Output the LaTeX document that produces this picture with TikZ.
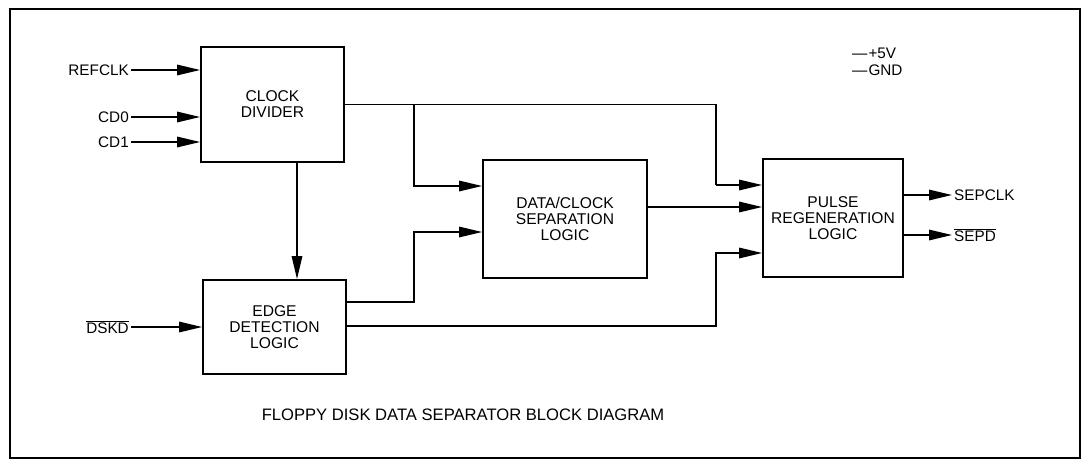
\documentclass[tikz,border=0pt]{standalone}
\usepackage{fontspec}
\setmainfont{Liberation Sans}
\usetikzlibrary{arrows.meta,calc}
\newcommand\ovl[1]{$\overline{\hbox{#1}}$}
\begin{document}
\begin{tikzpicture}[x=1pt,y=-1pt,
  blk/.style={draw,line width=1.8pt,inner sep=0pt,align=center,font=\fontsize{15.6}{16}\selectfont},
  lbl/.style={inner sep=2pt,font=\fontsize{15.3}{16}\selectfont},
  wire/.style={line width=1.5pt},
  arr/.style={line width=1.5pt,-{Triangle[length=23pt,width=10.5pt]}},
  ]
\useasboundingbox (0,0) rectangle (1084,461);
\draw[line width=2.2pt] (10,9) rectangle (1080,458);

\node[blk,minimum width=143pt,minimum height=115pt] (cd) at (272.5,104.5) {CLOCK\\DIVIDER};
\node[blk,minimum width=143pt,minimum height=94pt] (ed) at (274.5,327) {EDGE\\DETECTION\\LOGIC};
\node[blk,minimum width=164pt,minimum height=118pt] (dc) at (565,219) {DATA/CLOCK\\SEPARATION\\LOGIC};
\node[blk,minimum width=140pt,minimum height=118pt] (pr) at (833,218) {PULSE\\REGENERATION\\LOGIC};

% inputs
\node[lbl,anchor=east] (refclk) at (131,70) {REFCLK};
\node[lbl,anchor=east] (cd0) at (131,117) {CD0};
\node[lbl,anchor=east] (cd1) at (131,142) {CD1};
\node[lbl,anchor=east] (dskd) at (131,327) {\ovl{DSKD}};
\draw[arr] (refclk.east) -- (refclk.east -| cd.west);
\draw[arr] (cd0.east) -- (cd0.east -| cd.west);
\draw[arr] (cd1.east) -- (cd1.east -| cd.west);
\draw[arr] (dskd.east) -- (dskd.east -| ed.west);

% outputs
\node[lbl,anchor=west] (sepclk) at (952,195) {SEPCLK};
\node[lbl,anchor=west] (sepd) at (952,235) {\ovl{SEPD}};
\draw[arr] (pr.east |- sepclk.west) -- (sepclk.west);
\draw[arr] (pr.east |- sepd.west) -- (sepd.west);

% power
\node[lbl,anchor=west] (p5) at (850,53) {\textemdash\kern1pt+5V};
\node[lbl,anchor=west] (gnd) at (850,70) {\textemdash\kern1pt GND};

% internal connections
\coordinate (xa) at (297,0);
\coordinate (xb) at (414,0);
\coordinate (xc) at (716,0);
\draw[arr] (xa |- cd.south) -- (xa |- ed.north);

\draw[wire] (cd.east) -- (xc |- cd.east) -- (xc |- 0,185);
\draw[arr] (xc |- 0,185) -- (pr.west |- 0,185);
\draw[arr] (xb |- cd.east) -- (xb |- 0,186) -- (dc.west |- 0,186);

\draw[arr] (ed.east |- 0,302) -- (xb |- 0,302) -- (xb |- 0,232) -- (dc.west |- 0,232);
\draw[arr] (ed.east |- 0,326) -- (xc |- 0,326) -- (xc |- 0,253) -- (pr.west |- 0,253);
\draw[arr] (dc.east |- 0,207) -- (pr.west |- 0,207);

\node[font=\fontsize{16.6}{18}\selectfont] (title) at (463,415) {FLOPPY DISK DATA SEPARATOR BLOCK DIAGRAM};
\end{tikzpicture}
\end{document}
